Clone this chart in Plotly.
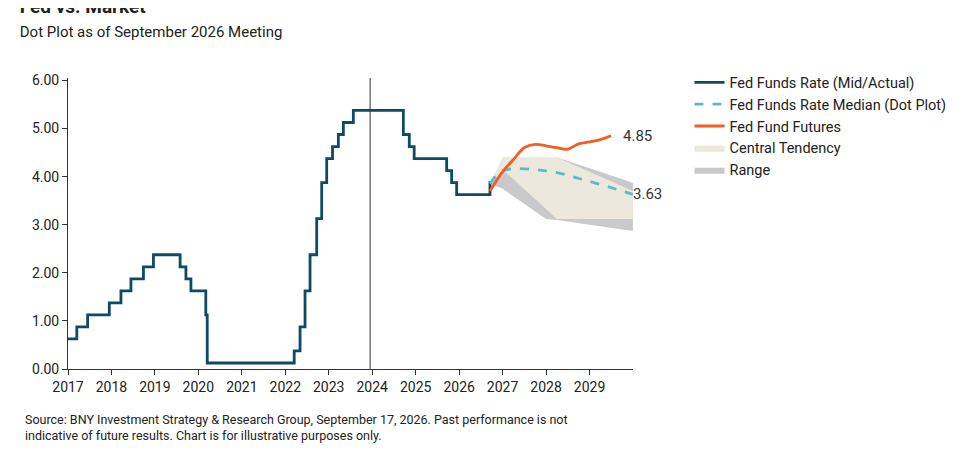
import plotly.graph_objects as go

# Fed funds mid rate (step changes)
ffr_dates = ['2017-01-01', '2017-03-16', '2017-06-15', '2017-12-14', '2018-03-22', '2018-06-14',
             '2018-09-27', '2018-12-20', '2019-08-01', '2019-09-19', '2019-10-31', '2020-03-04',
             '2020-03-16', '2022-03-17', '2022-05-05', '2022-06-16', '2022-07-28', '2022-09-22',
             '2022-11-03', '2022-12-15', '2023-02-02', '2023-03-23', '2023-05-04', '2023-07-27',
             '2024-09-19', '2024-11-08', '2024-12-19', '2025-09-18', '2025-10-30', '2025-12-11',
             '2026-09-17', '2026-09-30']
ffr_vals = [0.625, 0.875, 1.125, 1.375, 1.625, 1.875, 2.125, 2.375, 2.125, 1.875, 1.625, 1.125,
            0.125, 0.375, 0.875, 1.625, 2.375, 3.125, 3.875, 4.375, 4.625, 4.875, 5.125, 5.375,
            4.875, 4.625, 4.375, 4.125, 3.875, 3.625, 3.875, 3.875]

median_dates = ['2026-09-17', '2027-01-01', '2028-01-01', '2029-01-01', '2029-12-31']
median_vals = [3.85, 4.12, 4.12, 3.9, 3.63]

fut_dates = ['2026-09-17', '2027-01-01', '2027-04-01', '2027-07-01', '2027-10-01', '2028-01-01',
             '2028-04-01', '2028-07-01', '2028-10-01', '2029-01-01', '2029-04-01', '2029-07-01']
fut_vals = [3.7, 4.1, 4.35, 4.6, 4.67, 4.64, 4.6, 4.57, 4.68, 4.72, 4.77, 4.85]

ct_dates = ['2026-09-17', '2027-01-01', '2028-04-01', '2029-12-31']
ct_high = [3.85, 4.4, 4.4, 3.7]
ct_low = [3.85, 4.15, 3.12, 3.12]
rng_dates = ['2026-09-17', '2027-01-01', '2028-01-01', '2028-04-01', '2029-12-31']
rng_high = [3.85, 4.15, 4.35, 4.4, 3.87]
rng_low = [3.85, 3.75, 3.12, 3.1, 2.87]

year_ticks = [str(y) for y in range(2017, 2030)]

fig = go.Figure()
fig.add_trace(go.Scatter(x=rng_dates + rng_dates[::-1], y=rng_high + rng_low[::-1], fill='toself',
                         fillcolor='#c9c9cb', line=dict(width=0), mode='lines', name='Range',
                         legendrank=5))
fig.add_trace(go.Scatter(x=ct_dates + ct_dates[::-1], y=ct_high + ct_low[::-1], fill='toself',
                         fillcolor='#ece8dc', line=dict(width=0), mode='lines', name='Central Tendency',
                         legendrank=4))
fig.add_trace(go.Scatter(x=ffr_dates, y=ffr_vals, mode='lines', line=dict(color='#0d4a63', width=2.8, shape='hv'),
                         name='Fed Funds Rate (Mid/Actual)', legendrank=1))
fig.add_trace(go.Scatter(x=median_dates, y=median_vals, mode='lines', line=dict(color='#5bbcc8', width=2.8, dash='dash', shape='spline'),
                         name='Fed Funds Rate Median (Dot Plot)', legendrank=2))
fig.add_trace(go.Scatter(x=fut_dates, y=fut_vals, mode='lines', line=dict(color='#f45d22', width=2.8, shape='spline'),
                         name='Fed Fund Futures', legendrank=3))

fig.add_shape(type='line', x0='2023-12-15', x1='2023-12-15', y0=0, y1=6.05, line=dict(color='#333', width=1))
fig.add_annotation(x=fut_dates[-1], y=fut_vals[-1], text='4.85', showarrow=False, xanchor='left', xshift=10,
                   font=dict(size=15, color='#333'))
fig.add_annotation(x=median_dates[-1], y=median_vals[-1], text='3.63', showarrow=False, xanchor='left', xshift=-2,
                   font=dict(size=15, color='#333'))

fig.update_layout(
    width=980, height=461, plot_bgcolor='white', paper_bgcolor='white',
    font=dict(family='Roboto', size=14, color='#222'),
    margin=dict(l=60, r=355, t=70, b=100),
    title=dict(text='<b>Fed vs. Market</b><br><span style="font-size:15px">Dot Plot as of September 2026 Meeting</span>',
               x=0.012, xanchor='left', y=0.99, yanchor='top', font=dict(size=19)),
    legend=dict(x=1.1, y=1.04, xanchor='left', yanchor='top', font=dict(size=14.5), tracegroupgap=4,
                traceorder='normal'),
    xaxis=dict(type='date', range=['2017-01-01', '2030-01-01'], tickvals=[y + '-01-01' for y in year_ticks],
               ticktext=year_ticks, showgrid=False, showline=True, linecolor='#333', ticks='outside',
               tickcolor='#333', ticklen=5),
    yaxis=dict(range=[0, 6.05], tickvals=[0, 1, 2, 3, 4, 5, 6], tickformat='.2f', showgrid=False,
               showline=True, linecolor='#333', ticks='outside', tickcolor='#333', ticklen=5),
)
fig.add_annotation(xref='paper', yref='paper', x=-0.08, y=-0.14, xanchor='left', yanchor='top', showarrow=False,
                   align='left', font=dict(size=12.5, color='#222'),
                   text='Source: BNY Investment Strategy & Research Group, September 17, 2026. Past performance is not<br>'
                        'indicative of future results. Chart is for illustrative purposes only.')
fig.write_html("out.html")
